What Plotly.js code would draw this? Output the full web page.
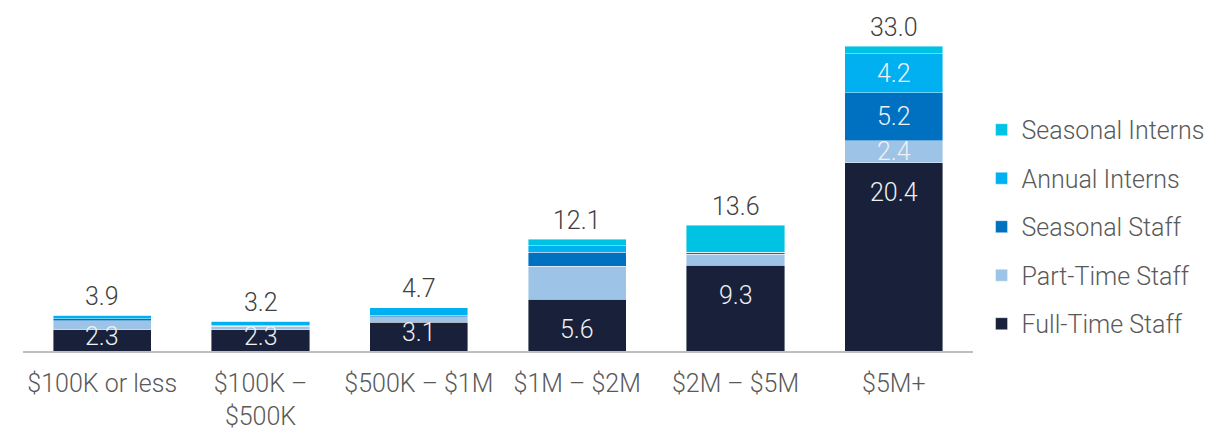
<!DOCTYPE html>
<html>
<head>
<meta charset="utf-8">
<script src="https://cdn.plot.ly/plotly-3.0.1.min.js"></script>
<style>html,body{margin:0;padding:0;background:#fff;}#chart{width:1232px;height:432px;}</style>
</head>
<body>
<div id="chart"></div>
<script>
const categories = ["$100K or less", "$100K –<br>$500K", "$500K – $1M", "$1M – $2M", "$2M – $5M", "$5M+"];
const fullTime = [2.3, 2.3, 3.1, 5.6, 9.3, 20.4];
const partTime = [1.0, 0.4, 0.6, 3.6, 1.2, 2.4];
const seasonalStaff = [0.2, 0.1, 0.2, 1.5, 0.2, 5.2];
const annualInterns = [0.4, 0.4, 0.8, 0.7, 0.0, 4.2];
const seasonalInterns = [0.0, 0.0, 0.0, 0.7, 2.9, 0.8];
const totals = [3.9, 3.2, 4.7, 12.1, 13.6, 33.0];
const labelledBar = [false, false, false, false, false, true];

const FONT = "Roboto, 'Open Sans', sans-serif";
const series = [
  {name: "Full-Time Staff", y: fullTime, color: "#18203a", segLabels: false},
  {name: "Part-Time Staff", y: partTime, color: "#9dc3e6", segLabels: true},
  {name: "Seasonal Staff", y: seasonalStaff, color: "#0070c0", segLabels: true},
  {name: "Annual Interns", y: annualInterns, color: "#00b0f0", segLabels: true},
  {name: "Seasonal Interns", y: seasonalInterns, color: "#00c3e3", segLabels: false}
];

const traces = series.map((s, i) => ({
  type: "bar",
  name: s.name,
  legendgroup: "g" + i,
  legendrank: series.length - i,
  x: categories,
  y: s.y,
  marker: {color: s.color, line: {color: "rgba(255,255,255,0.7)", width: 0.6}},
  text: s.y.map((v, k) => (s.segLabels && labelledBar[k]) ? v.toFixed(1) : ""),
  textposition: "inside",
  insidetextanchor: "middle",
  constraintext: "none",
  textfont: {family: FONT, size: 25, color: "#eef0f4", weight: 300},
  hoverinfo: "skip"
}));

const annotations = [];
categories.forEach((c, k) => {
  annotations.push({
    x: c, y: totals[k], xref: "x", yref: "y",
    text: totals[k].toFixed(1), showarrow: false,
    yanchor: "middle", yshift: 19,
    font: {family: FONT, size: 25, color: "#404040", weight: 300}
  });
  const v = fullTime[k];
  annotations.push({
    x: c, y: v > 5 ? v : v / 2, xref: "x", yref: "y",
    text: v.toFixed(1), showarrow: false,
    yanchor: "middle", yshift: v > 5 ? -30 : 4,
    font: {family: FONT, size: 25, color: "#eef0f4", weight: 300}
  });
});

const layout = {
  width: 1232, height: 432,
  margin: {l: 23, r: 259, t: 28, b: 81, pad: 0},
  paper_bgcolor: "#ffffff", plot_bgcolor: "#ffffff",
  barmode: "stack",
  bargap: 0.38,
  font: {family: FONT, size: 25, color: "#595959", weight: 300},
  xaxis: {
    showline: true, linecolor: "#bfbfbf", linewidth: 2,
    showgrid: false, zeroline: false, ticks: "",
    ticklabelstandoff: 9,
    tickfont: {family: FONT, size: 25, color: "#595959", weight: 300},
    fixedrange: true
  },
  yaxis: {range: [0, 35], visible: false, fixedrange: true},
  showlegend: true,
  legend: {
    traceorder: "grouped",
    tracegroupgap: 13,
    x: 1.009, xanchor: "left", xref: "paper",
    y: 0.384, yanchor: "middle",
    font: {family: FONT, size: 25, color: "#595959", weight: 300},
    bgcolor: "rgba(0,0,0,0)",
    itemclick: false
  },
  annotations: annotations
};

Plotly.newPlot("chart", traces, layout, {displayModeBar: false, staticPlot: true});
</script>
</body>
</html>
